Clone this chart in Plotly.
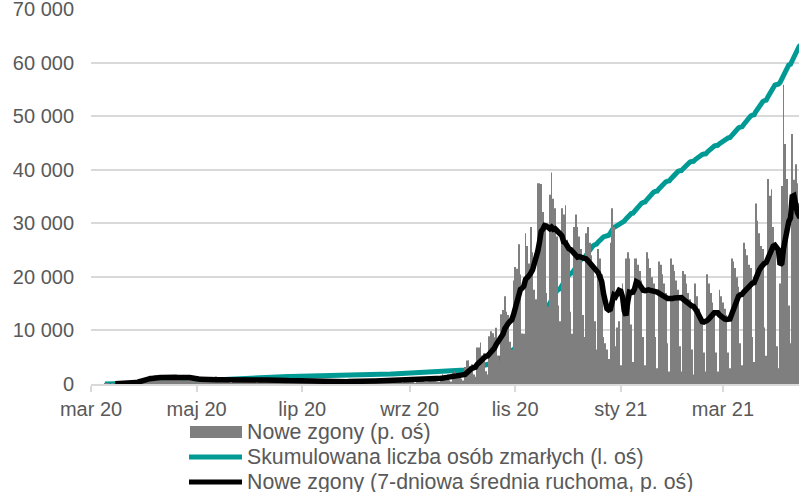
import numpy as np
import pandas as pd
import plotly.graph_objects as go

# ---- data: daily new deaths (from 2020-03-12) ----
START = "2020-03-12"
d_2020_03 = [1, 1, 1, 0, 1, 1, 0, 1, 2, 0, 2, 4, 2, 2, 4, 7, 1, 10, 5, 12]
d_2020_04 = [17, 12, 13, 15, 15, 20, 26, 22, 20, 27, 18, 21, 11, 26, 26, 28, 24, 12, 20, 19,
             28, 20, 22, 27, 24, 11, 12, 22, 27, 20]
d_2020_05 = [15, 11, 9, 8, 23, 18, 22, 17, 15, 5, 7, 18, 17, 14, 24, 11, 4, 6, 19, 14,
             12, 17, 10, 3, 6, 15, 22, 14, 17, 12, 6]
d_2020_06 = [4, 18, 15, 20, 14, 12, 5, 3, 16, 19, 10, 23, 12, 7, 4, 14, 16, 12, 20, 11,
             5, 3, 15, 12, 13, 18, 10, 4, 3, 11]
d_2020_07 = [12, 9, 10, 7, 3, 2, 8, 9, 7, 10, 6, 2, 1, 7, 6, 8, 5, 6, 2, 1,
             9, 8, 7, 10, 6, 2, 1, 11, 12, 9, 13]
d_2020_08 = [9, 4, 2, 12, 10, 13, 11, 9, 3, 2, 14, 12, 15, 13, 10, 4, 2, 16, 13, 11,
             14, 12, 3, 2, 17, 15, 12, 16, 13, 5, 3]
d_2020_09 = [16, 14, 17, 12, 15, 5, 3, 18, 16, 19, 14, 17, 6, 4, 22, 24, 21, 18, 20, 8,
             5, 27, 31, 28, 25, 30, 12, 8, 36, 41]
d_2020_10 = [30, 27, 33, 17, 11, 54, 75, 76, 54, 63, 30, 23, 116, 116, 132, 91, 98, 41, 30, 152,
             168, 162, 149, 179, 91, 75, 222, 236, 280, 230, 220]
d_2020_11 = [135, 109, 330, 373, 367, 445, 349, 161, 160, 480, 440, 384, 500, 420, 300, 270, 640, 640, 637, 548,
             500, 290, 247, 603, 674, 590, 560, 470, 250, 200]
d_2020_12 = [560, 540, 570, 460, 440, 230, 160, 500, 540, 500, 470, 430, 220, 150, 480, 500, 450, 410, 380, 200,
             110, 430, 400, 350, 150, 130, 110, 80, 450, 560, 500]
d_2021_01 = [120, 180, 200, 60, 320, 250, 400, 420, 400, 190, 70, 400, 400, 380, 360, 330, 150, 60, 420, 400,
             370, 340, 320, 150, 50, 390, 380, 350, 320, 290, 130]
d_2021_02 = [40, 400, 380, 360, 330, 300, 120, 40, 360, 350, 320, 290, 270, 110, 30, 320, 280, 240, 210, 200,
             100, 40, 350, 320, 290, 260, 230, 100]
d_2021_03 = [40, 300, 280, 260, 240, 220, 100, 50, 400, 390, 370, 340, 310, 130, 60, 450, 430, 410, 380, 370,
             150, 70, 575, 520, 480, 440, 430, 180, 90, 653, 600]
d_2021_04 = [621, 500, 450, 120, 50, 320, 631, 954, 765, 653, 250, 130, 797, 651, 700, 640, 577, 240]

tick_dates = ["2020-03-04", "2020-05-04", "2020-07-04", "2020-09-04",
              "2020-11-04", "2021-01-04", "2021-03-04"]
tick_labels = ["mar 20", "maj 20", "lip 20", "wrz 20", "lis 20", "sty 21", "mar 21"]

names = ["Nowe zgony (p. oś)",
         "Skumulowana liczba osób zmarłych (l. oś)",
         "Nowe zgony (7-dniowa średnia ruchoma, p. oś)"]

daily = (d_2020_03 + d_2020_04 + d_2020_05 + d_2020_06 + d_2020_07 + d_2020_08 +
         d_2020_09 + d_2020_10 + d_2020_11 + d_2020_12 + d_2021_01 + d_2021_02 +
         d_2021_03 + d_2021_04)
dates = pd.date_range(START, periods=len(daily), freq="D")
s = pd.Series(daily, index=dates, dtype=float)
cum = s.cumsum()
ma7 = s.rolling(7).mean()

GREY = "#7F7F7F"
TEAL = "#009A95"
TXT = "#595959"
GRID = "#D9D9D9"
FONT = "Liberation Sans, Arial, sans-serif"

W, H = 799, 492
ML, MR, MT, MB = 91, 0, 9, 108
PW, PH = W - ML - MR, H - MT - MB


def px(xpix):
    return (xpix - ML) / PW


def py(ypix):
    return (H - MB - ypix) / PH


fig = go.Figure()
fig.add_trace(go.Bar(x=dates, y=s.values, yaxis="y2", marker=dict(color=GREY, line=dict(width=0)),
                     showlegend=False, name=names[0]))
fig.add_trace(go.Scatter(x=dates, y=cum.values, mode="lines", line=dict(color=TEAL, width=5),
                         name=names[1], showlegend=False))
fig.add_trace(go.Scatter(x=dates, y=ma7.values, mode="lines", line=dict(color="#000000", width=5.5),
                         name=names[2], yaxis="y2", showlegend=False))

# ---- legend drawn below the plot (symbols + texts) ----
rows_y = [432, 457, 482]
shapes = [
    dict(type="rect", xref="paper", yref="paper", x0=px(190), x1=px(242),
         y0=py(rows_y[0] + 6), y1=py(rows_y[0] - 6), fillcolor=GREY, line=dict(width=0)),
    dict(type="line", xref="paper", yref="paper", x0=px(189), x1=px(242),
         y0=py(rows_y[1]), y1=py(rows_y[1]), line=dict(color=TEAL, width=5)),
    dict(type="line", xref="paper", yref="paper", x0=px(189), x1=px(242),
         y0=py(rows_y[2]), y1=py(rows_y[2]), line=dict(color="#000000", width=5)),
]
annotations = [
    dict(text=n, xref="paper", yref="paper", x=px(246), y=py(ry), xanchor="left", yanchor="middle",
         showarrow=False, borderpad=0, font=dict(size=21.3, color=TXT, family=FONT))
    for n, ry in zip(names, rows_y)
]

fig.update_layout(
    width=W, height=H,
    margin=dict(l=ML, r=MR, t=MT, b=MB, autoexpand=False),
    paper_bgcolor="white", plot_bgcolor="white",
    separators=", ",
    font=dict(family=FONT, size=20, color=TXT),
    bargap=0.55,
    showlegend=False,
    shapes=shapes,
    annotations=annotations,
    xaxis=dict(type="date", range=["2020-03-04", "2021-04-16 22:00"],
               tickvals=tick_dates, ticktext=tick_labels,
               showgrid=False, showline=True, linecolor=GRID, linewidth=1.5,
               ticks="outside", ticklen=6, tickcolor=GRID, tickwidth=1.5,
               tickfont=dict(size=20, color=TXT), automargin=False, zeroline=False,
               ticklabeloverflow="allow"),
    yaxis=dict(range=[0, 70000], dtick=10000, tickformat=",d",
               showgrid=True, gridcolor=GRID, gridwidth=1.5, zeroline=False,
               showline=False, ticks="", ticklabelstandoff=16, ticklabeloverflow="allow",
               tickfont=dict(size=20, color=TXT), automargin=False),
    yaxis2=dict(range=[0, 1195], overlaying="y", side="right", showgrid=False,
                showticklabels=False, zeroline=False, showline=False, automargin=False),
)

fig.write_html("out.html", config={"displayModeBar": False},
               post_script="document.body.style.margin='0px';")
